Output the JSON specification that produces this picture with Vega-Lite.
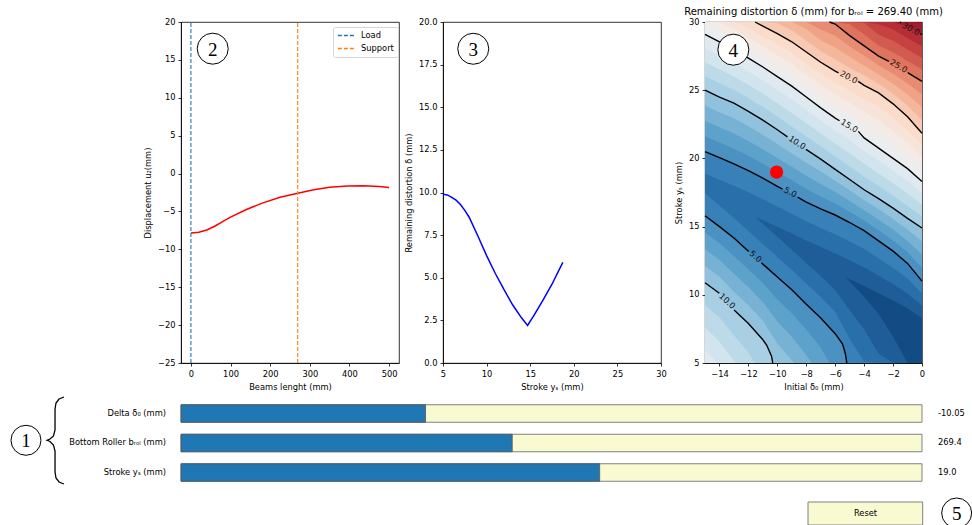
{
"$schema":"https://vega.github.io/schema/vega-lite/v6.json",
"padding":{"left":8,"top":6,"right":0,"bottom":0},
"background":"white",
"columns":3,
"align":"each",
"bounds":"flush",
"spacing":{"row":41.5,"column":44},
"resolve":{"scale":{"color":"independent"},"legend":{"color":"independent"}},
"config":{
 "view":{"stroke":"#000","strokeWidth":0.8},
 "font":"DejaVu Sans",
 "axis":{"labelFont":"DejaVu Sans","titleFont":"DejaVu Sans","labelFontSize":8.3,"titleFontSize":8.3,"titleFontWeight":"normal","labelColor":"#000","titleColor":"#000","tickColor":"#000","domainColor":"#000","tickSize":3,"tickWidth":0.8,"domainWidth":0.8,"grid":false,"labelPadding":3,"titlePadding":5,"labelFlush":false,"labelOverlap":false,"labelBound":false},
 "text":{"font":"DejaVu Sans","fontSize":8.3,"color":"#000"}
},
"concat":[
{
 "width":218,"height":341,
 "layer":[
  {"data":{"values":[{"x":0,"y":-7.85},{"x":20,"y":-7.75},{"x":40,"y":-7.45},{"x":60,"y":-6.95},{"x":80,"y":-6.35},{"x":100,"y":-5.75},{"x":140,"y":-4.75},{"x":180,"y":-3.9},{"x":225,"y":-3.12},{"x":269.4,"y":-2.6},{"x":310,"y":-2.15},{"x":350,"y":-1.82},{"x":395,"y":-1.65},{"x":435,"y":-1.62},{"x":475,"y":-1.7},{"x":500,"y":-1.83}]},
   "mark":{"type":"line","color":"#ff0000","strokeWidth":1.5},
   "encoding":{
     "x":{"field":"x","type":"quantitative","scale":{"domain":[-25,525],"nice":false,"zero":false},"axis":{"values":[0,100,200,300,400,500],"tickCount":6,"labelOverlap":false,"title":"Beams lenght (mm)"}},
     "y":{"field":"y","type":"quantitative","scale":{"domain":[-25,20],"nice":false,"zero":false},"axis":{"values":[-25,-20,-15,-10,-5,0,5,10,15,20],"tickCount":10,"labelOverlap":false,"title":"Displacement u₂(mm)"}}
   }},
  {"data":{"values":[{"s":"Load","x":0,"y0":-25,"y1":20},{"s":"Support","x":269.4,"y0":-25,"y1":20}]},
   "mark":{"type":"rule","strokeDash":[4,2],"strokeWidth":1.1},
   "encoding":{
     "x":{"field":"x","type":"quantitative"},
     "y":{"field":"y0","type":"quantitative"},"y2":{"field":"y1"},
     "color":{"field":"s","type":"nominal","scale":{"domain":["Load","Support"],"range":["#1f77b4","#ff7f0e"]},
       "legend":{"orient":"none","legendX":152,"legendY":5,"title":null,"symbolType":"stroke","symbolDash":[4,2],"symbolStrokeWidth":1.3,"symbolSize":300,"labelFontSize":8.3,"labelFont":"DejaVu Sans","labelColor":"#000","fillColor":"#fff","strokeColor":"#d5d5d5","padding":4,"cornerRadius":2,"clipHeight":9,"rowPadding":3,"labelOffset":5}}
   }},
  {"data":{"values":[{"n":"2","x":55,"y":16.48}]},
   "mark":{"type":"point","shape":"circle","filled":true,"fill":"#fff","stroke":"#000","strokeWidth":1,"size":961,"opacity":1},
   "encoding":{"x":{"field":"x","type":"quantitative"},"y":{"field":"y","type":"quantitative"}}},
  {"data":{"values":[{"n":"2","x":55,"y":16.48}]},
   "mark":{"type":"text","font":"Liberation Serif","fontSize":19,"baseline":"middle","dy":1},
   "encoding":{"x":{"field":"x","type":"quantitative"},"y":{"field":"y","type":"quantitative"},"text":{"field":"n","type":"nominal"}}}
 ]
},
{
 "width":218,"height":341,
 "layer":[
  {"data":{"values":[{"x":5,"y":9.9},{"x":5.5,"y":9.86},{"x":6,"y":9.72},{"x":6.5,"y":9.55},{"x":7,"y":9.3},{"x":7.5,"y":8.95},{"x":8,"y":8.55},{"x":9,"y":7.45},{"x":10,"y":6.3},{"x":11,"y":5.25},{"x":12,"y":4.3},{"x":13,"y":3.4},{"x":14,"y":2.65},{"x":14.7,"y":2.2},{"x":15.5,"y":2.85},{"x":16.5,"y":3.72},{"x":17.5,"y":4.62},{"x":18.74,"y":5.9}]},
   "mark":{"type":"line","color":"#0000ff","strokeWidth":1.5},
   "encoding":{
     "x":{"field":"x","type":"quantitative","scale":{"domain":[5,30],"nice":false,"zero":false},"axis":{"values":[5,10,15,20,25,30],"tickCount":6,"labelOverlap":false,"title":"Stroke yₛ (mm)"}},
     "y":{"field":"y","type":"quantitative","scale":{"domain":[0,20],"nice":false,"zero":false},"axis":{"values":[0,2.5,5,7.5,10,12.5,15,17.5,20],"tickCount":9,"labelOverlap":false,"format":".1f","title":"Remaining distortion δ (mm)"}}
   }},
  {"data":{"values":[{"n":"3","x":8.47,"y":18.43}]},
   "mark":{"type":"point","shape":"circle","filled":true,"fill":"#fff","stroke":"#000","strokeWidth":1,"size":961,"opacity":1},
   "encoding":{"x":{"field":"x","type":"quantitative"},"y":{"field":"y","type":"quantitative"}}},
  {"data":{"values":[{"n":"3","x":8.47,"y":18.43}]},
   "mark":{"type":"text","font":"Liberation Serif","fontSize":19,"baseline":"middle","dy":1},
   "encoding":{"x":{"field":"x","type":"quantitative"},"y":{"field":"y","type":"quantitative"},"text":{"field":"n","type":"nominal"}}}
 ]
},
{
 "width":217,"height":341,
 "layer":[
  {"data":{"values":[
{"k":26,"x":-15,"a":5,"b":30},{"k":26,"x":0,"a":5,"b":30},
{"k":25,"x":-15,"a":5,"b":30},{"k":25,"x":-1,"a":5,"b":30},{"k":25,"x":0,"a":5,"b":29.93},
{"k":24,"x":-15,"a":5,"b":30},{"k":24,"x":-2,"a":5,"b":30},{"k":24,"x":-1,"a":5,"b":29.65},{"k":24,"x":0,"a":5,"b":29.07},
{"k":23,"x":-15,"a":5,"b":30},{"k":23,"x":-4,"a":5,"b":30},{"k":23,"x":-3,"a":5,"b":29.84},{"k":23,"x":-2,"a":5,"b":29.46},{"k":23,"x":-1,"a":5,"b":28.81},{"k":23,"x":0,"a":5,"b":28.22},
{"k":22,"x":-15,"a":5,"b":30},{"k":22,"x":-5,"a":5,"b":30},{"k":22,"x":-4,"a":5,"b":29.93},{"k":22,"x":-3,"a":5,"b":29.06},{"k":22,"x":-2,"a":5,"b":28.63},{"k":22,"x":-1,"a":5,"b":27.98},{"k":22,"x":0,"a":5,"b":27.36},
{"k":21,"x":-15,"a":5,"b":30},{"k":21,"x":-6,"a":5,"b":30},{"k":21,"x":-5,"a":5,"b":29.83},{"k":21,"x":-4,"a":5,"b":29.09},{"k":21,"x":-3,"a":5,"b":28.28},{"k":21,"x":-2,"a":5,"b":27.79},{"k":21,"x":-1,"a":5,"b":27.14},{"k":21,"x":0,"a":5,"b":26.51},
{"k":20,"x":-15,"a":5,"b":30},{"k":20,"x":-6.4,"a":5,"b":30},{"k":20,"x":-6,"a":5,"b":29.85},{"k":20,"x":-5,"a":5,"b":29.0},{"k":20,"x":-4,"a":5,"b":28.25},{"k":20,"x":-3,"a":5,"b":27.5},{"k":20,"x":-2,"a":5,"b":26.95},{"k":20,"x":-1,"a":5,"b":26.3},{"k":20,"x":0,"a":5,"b":25.65},
{"k":19,"x":-15,"a":5,"b":30},{"k":19,"x":-8,"a":5,"b":30},{"k":19,"x":-7,"a":5,"b":29.45},{"k":19,"x":-6,"a":5,"b":28.99},{"k":19,"x":-5,"a":5,"b":28.21},{"k":19,"x":-4,"a":5,"b":27.53},{"k":19,"x":-3,"a":5,"b":26.83},{"k":19,"x":-2,"a":5,"b":26.21},{"k":19,"x":-1,"a":5,"b":25.49},{"k":19,"x":0,"a":5,"b":24.7},
{"k":18,"x":-15,"a":5,"b":30},{"k":18,"x":-9,"a":5,"b":30},{"k":18,"x":-8,"a":5,"b":29.47},{"k":18,"x":-7,"a":5,"b":28.65},{"k":18,"x":-6,"a":5,"b":28.13},{"k":18,"x":-5,"a":5,"b":27.43},{"k":18,"x":-4,"a":5,"b":26.8},{"k":18,"x":-3,"a":5,"b":26.15},{"k":18,"x":-2,"a":5,"b":25.48},{"k":18,"x":-1,"a":5,"b":24.68},{"k":18,"x":0,"a":5,"b":23.75},
{"k":17,"x":-15,"a":5,"b":30},{"k":17,"x":-11,"a":5,"b":30},{"k":17,"x":-10,"a":5,"b":29.91},{"k":17,"x":-9,"a":5,"b":29.37},{"k":17,"x":-8,"a":5,"b":28.63},{"k":17,"x":-7,"a":5,"b":27.85},{"k":17,"x":-6,"a":5,"b":27.26},{"k":17,"x":-5,"a":5,"b":26.64},{"k":17,"x":-4,"a":5,"b":26.08},{"k":17,"x":-3,"a":5,"b":25.48},{"k":17,"x":-2,"a":5,"b":24.74},{"k":17,"x":-1,"a":5,"b":23.86},{"k":17,"x":0,"a":5,"b":22.8},
{"k":16,"x":-15,"a":5,"b":30},{"k":16,"x":-11.54,"a":5,"b":30},{"k":16,"x":-11,"a":5,"b":29.7},{"k":16,"x":-10,"a":5,"b":29.15},{"k":16,"x":-9,"a":5,"b":28.55},{"k":16,"x":-8,"a":5,"b":27.8},{"k":16,"x":-7,"a":5,"b":27.05},{"k":16,"x":-6,"a":5,"b":26.4},{"k":16,"x":-5,"a":5,"b":25.85},{"k":16,"x":-4,"a":5,"b":25.35},{"k":16,"x":-3,"a":5,"b":24.8},{"k":16,"x":-2,"a":5,"b":24.0},{"k":16,"x":-1,"a":5,"b":23.05},{"k":16,"x":0,"a":5,"b":21.85},
{"k":15,"x":-15,"a":5,"b":30},{"k":15,"x":-13,"a":5,"b":30},{"k":15,"x":-12,"a":5,"b":29.56},{"k":15,"x":-11,"a":5,"b":28.95},{"k":15,"x":-10,"a":5,"b":28.36},{"k":15,"x":-9,"a":5,"b":27.74},{"k":15,"x":-8,"a":5,"b":26.98},{"k":15,"x":-7,"a":5,"b":26.21},{"k":15,"x":-6,"a":5,"b":25.54},{"k":15,"x":-5,"a":5,"b":24.96},{"k":15,"x":-4,"a":5,"b":24.39},{"k":15,"x":-3,"a":5,"b":23.79},{"k":15,"x":-2,"a":5,"b":23.0},{"k":15,"x":-1,"a":5,"b":22.1},{"k":15,"x":0,"a":5,"b":20.96},
{"k":14,"x":-15,"a":5,"b":30},{"k":14,"x":-14,"a":5,"b":30},{"k":14,"x":-13,"a":5,"b":29.5},{"k":14,"x":-12,"a":5,"b":28.83},{"k":14,"x":-11,"a":5,"b":28.2},{"k":14,"x":-10,"a":5,"b":27.58},{"k":14,"x":-9,"a":5,"b":26.93},{"k":14,"x":-8,"a":5,"b":26.15},{"k":14,"x":-7,"a":5,"b":25.38},{"k":14,"x":-6,"a":5,"b":24.68},{"k":14,"x":-5,"a":5,"b":24.08},{"k":14,"x":-4,"a":5,"b":23.43},{"k":14,"x":-3,"a":5,"b":22.78},{"k":14,"x":-2,"a":5,"b":22.0},{"k":14,"x":-1,"a":5,"b":21.15},{"k":14,"x":0,"a":5,"b":20.08},
{"k":13,"x":-15,"a":5,"b":29.97},{"k":13,"x":-14,"a":5,"b":29.37},{"k":13,"x":-13,"a":5,"b":28.73},{"k":13,"x":-12,"a":5,"b":28.09},{"k":13,"x":-11,"a":5,"b":27.45},{"k":13,"x":-10,"a":5,"b":26.79},{"k":13,"x":-9,"a":5,"b":26.11},{"k":13,"x":-8,"a":5,"b":25.33},{"k":13,"x":-7,"a":5,"b":24.54},{"k":13,"x":-6,"a":5,"b":23.81},{"k":13,"x":-5,"a":5,"b":23.19},{"k":13,"x":-4,"a":5,"b":22.46},{"k":13,"x":-3,"a":5,"b":21.76},{"k":13,"x":-2,"a":5,"b":21.0},{"k":13,"x":-1,"a":5,"b":20.2},{"k":13,"x":0,"a":5,"b":19.19},
{"k":12,"x":-15,"a":5,"b":29.1},{"k":12,"x":-14,"a":5,"b":28.55},{"k":12,"x":-13,"a":5,"b":27.95},{"k":12,"x":-12,"a":5,"b":27.35},{"k":12,"x":-11,"a":5,"b":26.7},{"k":12,"x":-10,"a":5,"b":26.0},{"k":12,"x":-9,"a":5,"b":25.3},{"k":12,"x":-8,"a":5,"b":24.5},{"k":12,"x":-7,"a":5,"b":23.7},{"k":12,"x":-6,"a":5,"b":22.95},{"k":12,"x":-5,"a":5,"b":22.3},{"k":12,"x":-4,"a":5,"b":21.5},{"k":12,"x":-3,"a":5,"b":20.75},{"k":12,"x":-2,"a":5,"b":20.0},{"k":12,"x":-1,"a":5,"b":19.25},{"k":12,"x":0,"a":5,"b":18.3},
{"k":11,"x":-15,"a":5.98,"b":28.08},{"k":11,"x":-14.17,"a":5,"b":27.63},{"k":11,"x":-14,"a":5,"b":27.54},{"k":11,"x":-13,"a":5,"b":26.98},{"k":11,"x":-12,"a":5,"b":26.38},{"k":11,"x":-11,"a":5,"b":25.73},{"k":11,"x":-10,"a":5,"b":25.03},{"k":11,"x":-9,"a":5,"b":24.31},{"k":11,"x":-8,"a":5,"b":23.54},{"k":11,"x":-7,"a":5,"b":22.76},{"k":11,"x":-6,"a":5,"b":22.01},{"k":11,"x":-5,"a":5,"b":21.34},{"k":11,"x":-4,"a":5,"b":20.55},{"k":11,"x":-3,"a":5,"b":19.83},{"k":11,"x":-2,"a":5,"b":19.09},{"k":11,"x":-1,"a":5,"b":18.34},{"k":11,"x":0,"a":5,"b":17.45},
{"k":10,"x":-15,"a":7.61,"b":27.05},{"k":10,"x":-14,"a":6.56,"b":26.53},{"k":10,"x":-13,"a":5.15,"b":26.0},{"k":10,"x":-12.89,"a":5,"b":25.93},{"k":10,"x":-12,"a":5,"b":25.4},{"k":10,"x":-11,"a":5,"b":24.75},{"k":10,"x":-10,"a":5,"b":24.05},{"k":10,"x":-9,"a":5,"b":23.33},{"k":10,"x":-8,"a":5,"b":22.58},{"k":10,"x":-7,"a":5,"b":21.83},{"k":10,"x":-6,"a":5,"b":21.08},{"k":10,"x":-5,"a":5,"b":20.38},{"k":10,"x":-4,"a":5,"b":19.6},{"k":10,"x":-3,"a":5,"b":18.9},{"k":10,"x":-2,"a":5,"b":18.18},{"k":10,"x":-1,"a":5,"b":17.43},{"k":10,"x":0,"a":5,"b":16.6},
{"k":9,"x":-15,"a":9.25,"b":26.03},{"k":9,"x":-14,"a":8.33,"b":25.51},{"k":9,"x":-13,"a":7.03,"b":25.03},{"k":9,"x":-12,"a":5.77,"b":24.43},{"k":9,"x":-11.55,"a":5,"b":24.1},{"k":9,"x":-11,"a":5,"b":23.78},{"k":9,"x":-10,"a":5,"b":23.08},{"k":9,"x":-9,"a":5,"b":22.34},{"k":9,"x":-8,"a":5,"b":21.61},{"k":9,"x":-7,"a":5,"b":20.89},{"k":9,"x":-6,"a":5,"b":20.14},{"k":9,"x":-5,"a":5,"b":19.41},{"k":9,"x":-4,"a":5,"b":18.65},{"k":9,"x":-3,"a":5,"b":17.98},{"k":9,"x":-2,"a":5,"b":17.26},{"k":9,"x":-1,"a":5,"b":16.51},{"k":9,"x":0,"a":5,"b":15.75},
{"k":8,"x":-15,"a":10.88,"b":25.0},{"k":8,"x":-14,"a":10.1,"b":24.5},{"k":8,"x":-13,"a":8.9,"b":24.05},{"k":8,"x":-12,"a":7.9,"b":23.45},{"k":8,"x":-11,"a":6.7,"b":22.8},{"k":8,"x":-10.74,"a":6.32,"b":22.62},{"k":8,"x":-10.4,"a":5.5,"b":22.38},{"k":8,"x":-10.32,"a":5,"b":22.32},{"k":8,"x":-10,"a":5,"b":22.1},{"k":8,"x":-9,"a":5,"b":21.35},{"k":8,"x":-8,"a":5,"b":20.65},{"k":8,"x":-7,"a":5,"b":19.95},{"k":8,"x":-6,"a":5,"b":19.2},{"k":8,"x":-5,"a":5,"b":18.45},{"k":8,"x":-4,"a":5,"b":17.7},{"k":8,"x":-3,"a":5,"b":17.05},{"k":8,"x":-2,"a":5,"b":16.35},{"k":8,"x":-1,"a":5,"b":15.6},{"k":8,"x":0,"a":5,"b":14.9},
{"k":7,"x":-15,"a":12.11,"b":23.87},{"k":7,"x":-14,"a":11.33,"b":23.39},{"k":7,"x":-13,"a":10.22,"b":22.94},{"k":7,"x":-12,"a":9.23,"b":22.36},{"k":7,"x":-11,"a":8.09,"b":21.74},{"k":7,"x":-10,"a":6.43,"b":21.06},{"k":7,"x":-9,"a":5.21,"b":20.36},{"k":7,"x":-8.85,"a":5,"b":20.26},{"k":7,"x":-8,"a":5,"b":19.69},{"k":7,"x":-7,"a":5,"b":19.04},{"k":7,"x":-6,"a":5,"b":18.36},{"k":7,"x":-5,"a":5,"b":17.66},{"k":7,"x":-4,"a":5,"b":16.95},{"k":7,"x":-3,"a":5,"b":16.28},{"k":7,"x":-2,"a":5,"b":15.56},{"k":7,"x":-1,"a":5,"b":14.78},{"k":7,"x":0,"a":5,"b":13.93},
{"k":6,"x":-15,"a":13.34,"b":22.75},{"k":6,"x":-14,"a":12.55,"b":22.28},{"k":6,"x":-13,"a":11.54,"b":21.83},{"k":6,"x":-12,"a":10.55,"b":21.28},{"k":6,"x":-11,"a":9.48,"b":20.68},{"k":6,"x":-10,"a":8.05,"b":20.03},{"k":6,"x":-9,"a":6.93,"b":19.38},{"k":6,"x":-8,"a":5.59,"b":18.73},{"k":6,"x":-7.6,"a":5,"b":18.49},{"k":6,"x":-7,"a":5,"b":18.13},{"k":6,"x":-6,"a":5,"b":17.53},{"k":6,"x":-5,"a":5,"b":16.88},{"k":6,"x":-4,"a":5,"b":16.2},{"k":6,"x":-3,"a":5,"b":15.5},{"k":6,"x":-2,"a":5,"b":14.78},{"k":6,"x":-1,"a":5,"b":13.95},{"k":6,"x":0,"a":5,"b":12.95},
{"k":5,"x":-15,"a":14.57,"b":21.62},{"k":5,"x":-14,"a":13.78,"b":21.16},{"k":5,"x":-13,"a":12.85,"b":20.71},{"k":5,"x":-12,"a":11.88,"b":20.19},{"k":5,"x":-11,"a":10.86,"b":19.61},{"k":5,"x":-10,"a":9.68,"b":18.99},{"k":5,"x":-9,"a":8.65,"b":18.39},{"k":5,"x":-8,"a":7.45,"b":17.76},{"k":5,"x":-7,"a":6.13,"b":17.21},{"k":5,"x":-6.4,"a":5,"b":16.9},{"k":5,"x":-6,"a":5,"b":16.69},{"k":5,"x":-5,"a":5,"b":16.09},{"k":5,"x":-4,"a":5,"b":15.45},{"k":5,"x":-3,"a":5,"b":14.73},{"k":5,"x":-2,"a":5,"b":13.99},{"k":5,"x":-1,"a":5,"b":13.13},{"k":5,"x":0,"a":5,"b":11.98},
{"k":4,"x":-15,"a":15.8,"b":20.49},{"k":4,"x":-14,"a":15.0,"b":20.05},{"k":4,"x":-13,"a":14.17,"b":19.6},{"k":4,"x":-12,"a":13.2,"b":19.1},{"k":4,"x":-11,"a":12.25,"b":18.55},{"k":4,"x":-10,"a":11.3,"b":17.95},{"k":4,"x":-9,"a":10.37,"b":17.4},{"k":4,"x":-8,"a":9.3,"b":16.8},{"k":4,"x":-7,"a":8.3,"b":16.3},{"k":4,"x":-6,"a":7.15,"b":15.85},{"k":4,"x":-5.5,"a":6.4,"b":15.58},{"k":4,"x":-5.3,"a":5.7,"b":15.47},{"k":4,"x":-5.2,"a":5,"b":15.41},{"k":4,"x":-5,"a":5,"b":15.3},{"k":4,"x":-4,"a":5,"b":14.7},{"k":4,"x":-3,"a":5,"b":13.95},{"k":4,"x":-2,"a":5,"b":13.2},{"k":4,"x":-1,"a":5,"b":12.3},{"k":4,"x":0,"a":5,"b":11.0},
{"k":3,"x":-15,"a":17.44,"b":18.89},{"k":3,"x":-14,"a":16.53,"b":18.44},{"k":3,"x":-13,"a":15.63,"b":17.99},{"k":3,"x":-12,"a":14.67,"b":17.51},{"k":3,"x":-11,"a":13.73,"b":17.01},{"k":3,"x":-10,"a":12.78,"b":16.47},{"k":3,"x":-9,"a":11.84,"b":15.95},{"k":3,"x":-8,"a":10.82,"b":15.4},{"k":3,"x":-7,"a":9.84,"b":14.9},{"k":3,"x":-6,"a":8.75,"b":14.44},{"k":3,"x":-5,"a":6.77,"b":13.91},{"k":3,"x":-4,"a":5.1,"b":13.35},{"k":3,"x":-3,"a":5,"b":12.67},{"k":3,"x":-2,"a":5,"b":11.99},{"k":3,"x":-1,"a":5,"b":11.2},{"k":3,"x":0,"a":5,"b":10.1},
{"k":2,"x":-11.55,"a":15.73,"b":15.73},{"k":2,"x":-11,"a":15.2,"b":15.47},{"k":2,"x":-10,"a":14.25,"b":14.99},{"k":2,"x":-9,"a":13.31,"b":14.5},{"k":2,"x":-8,"a":12.34,"b":13.99},{"k":2,"x":-7,"a":11.37,"b":13.51},{"k":2,"x":-6,"a":10.36,"b":13.03},{"k":2,"x":-5,"a":8.87,"b":12.53},{"k":2,"x":-4,"a":7.48,"b":12.0},{"k":2,"x":-3,"a":5.69,"b":11.4},{"k":2,"x":-2,"a":5,"b":10.78},{"k":2,"x":-1,"a":5,"b":10.09},{"k":2,"x":0,"a":5,"b":9.19},
{"k":1,"x":-5.3,"a":11.29,"b":11.29},{"k":1,"x":-5,"a":10.97,"b":11.14},{"k":1,"x":-4,"a":9.86,"b":10.64},{"k":1,"x":-3,"a":8.59,"b":10.12},{"k":1,"x":-2,"a":6.95,"b":9.58},{"k":1,"x":-1,"a":5,"b":8.99},{"k":1,"x":0,"a":5,"b":8.29}
  ]},
   "mark":{"type":"area","interpolate":"linear","opacity":1},
   "encoding":{
     "x":{"field":"x","type":"quantitative","scale":{"domain":[-15,0],"nice":false,"zero":false},"axis":{"values":[-14,-12,-10,-8,-6,-4,-2,0],"tickCount":8,"labelOverlap":false,"title":"Initial δ₀ (mm)"}},
     "y":{"field":"a","type":"quantitative","scale":{"domain":[5,30],"nice":false,"zero":false},"axis":{"values":[5,10,15,20,25,30],"tickCount":6,"labelOverlap":false,"title":"Stroke yₛ (mm)"}},
     "y2":{"field":"b"},
     "color":{"field":"k","type":"quantitative","scale":{"scheme":"redblue","reverse":true,"domain":[1,26]},"legend":null},
     "detail":{"field":"k","type":"nominal"}
   }},
  {"data":{"values":[
{"c":"U5a","x":-15,"y":20.49},{"c":"U5a","x":-14,"y":20.05},{"c":"U5a","x":-13,"y":19.6},{"c":"U5a","x":-12,"y":19.1},{"c":"U5a","x":-11,"y":18.55},{"c":"U5a","x":-10,"y":17.95},{"c":"U5a","x":-9.64,"y":17.75},
{"c":"U5b","x":-8.6,"y":17.16},{"c":"U5b","x":-8,"y":16.8},{"c":"U5b","x":-7,"y":16.3},{"c":"U5b","x":-6,"y":15.85},{"c":"U5b","x":-5,"y":15.3},{"c":"U5b","x":-4,"y":14.7},{"c":"U5b","x":-3,"y":13.95},{"c":"U5b","x":-2,"y":13.2},{"c":"U5b","x":-1,"y":12.3},{"c":"U5b","x":0,"y":11.0},
{"c":"L5a","x":-15,"y":15.8},{"c":"L5a","x":-14,"y":15.0},{"c":"L5a","x":-13,"y":14.17},{"c":"L5a","x":-11.98,"y":13.18},
{"c":"L5b","x":-11.1,"y":12.35},{"c":"L5b","x":-11,"y":12.25},{"c":"L5b","x":-10,"y":11.3},{"c":"L5b","x":-9,"y":10.37},{"c":"L5b","x":-8,"y":9.3},{"c":"L5b","x":-7,"y":8.3},{"c":"L5b","x":-6,"y":7.15},{"c":"L5b","x":-5.5,"y":6.4},{"c":"L5b","x":-5.3,"y":5.7},{"c":"L5b","x":-5.2,"y":5},
{"c":"U10a","x":-15,"y":25.0},{"c":"U10a","x":-14,"y":24.5},{"c":"U10a","x":-13,"y":24.05},{"c":"U10a","x":-12,"y":23.45},{"c":"U10a","x":-11,"y":22.8},{"c":"U10a","x":-10,"y":22.1},{"c":"U10a","x":-9.3,"y":21.58},
{"c":"U10b","x":-8.02,"y":20.66},{"c":"U10b","x":-7,"y":19.95},{"c":"U10b","x":-6,"y":19.2},{"c":"U10b","x":-5,"y":18.45},{"c":"U10b","x":-4,"y":17.7},{"c":"U10b","x":-3,"y":17.05},{"c":"U10b","x":-2,"y":16.35},{"c":"U10b","x":-1,"y":15.6},{"c":"U10b","x":0,"y":14.9},
{"c":"L10a","x":-15,"y":10.88},{"c":"L10a","x":-14.01,"y":10.11},
{"c":"L10b","x":-12.99,"y":8.89},{"c":"L10b","x":-12,"y":7.9},{"c":"L10b","x":-11,"y":6.7},{"c":"L10b","x":-10.74,"y":6.32},{"c":"L10b","x":-10.4,"y":5.5},{"c":"L10b","x":-10.32,"y":5},
{"c":"U15a","x":-15,"y":29.1},{"c":"U15a","x":-14,"y":28.55},{"c":"U15a","x":-13,"y":27.95},{"c":"U15a","x":-12,"y":27.35},{"c":"U15a","x":-11,"y":26.7},{"c":"U15a","x":-10,"y":26.0},{"c":"U15a","x":-9,"y":25.3},{"c":"U15a","x":-8,"y":24.5},{"c":"U15a","x":-7,"y":23.7},{"c":"U15a","x":-6,"y":22.95},{"c":"U15a","x":-5.7,"y":22.76},
{"c":"U15b","x":-4.4,"y":21.98},{"c":"U15b","x":-4,"y":21.5},{"c":"U15b","x":-3,"y":20.75},{"c":"U15b","x":-2,"y":20.0},{"c":"U15b","x":-1,"y":19.25},{"c":"U15b","x":0,"y":18.3},
{"c":"U20a","x":-11.54,"y":30},{"c":"U20a","x":-11,"y":29.7},{"c":"U20a","x":-10,"y":29.15},{"c":"U20a","x":-9,"y":28.55},{"c":"U20a","x":-8,"y":27.8},{"c":"U20a","x":-7,"y":27.05},{"c":"U20a","x":-6,"y":26.4},{"c":"U20a","x":-5.77,"y":26.27},
{"c":"U20b","x":-4.41,"y":25.65},{"c":"U20b","x":-4,"y":25.35},{"c":"U20b","x":-3,"y":24.8},{"c":"U20b","x":-2,"y":24.0},{"c":"U20b","x":-1,"y":23.05},{"c":"U20b","x":0,"y":21.85},
{"c":"U25a","x":-6.4,"y":30},{"c":"U25a","x":-6,"y":29.85},{"c":"U25a","x":-5,"y":29.0},{"c":"U25a","x":-4,"y":28.25},{"c":"U25a","x":-3,"y":27.5},{"c":"U25a","x":-2.29,"y":27.11},
{"c":"U25b","x":-0.99,"y":26.29},{"c":"U25b","x":0,"y":25.65},
{"c":"U30a","x":-1.54,"y":30},{"c":"U30a","x":-1.43,"y":29.93},
{"c":"U30b","x":-0.13,"y":29.15},{"c":"U30b","x":0,"y":29.07}
  ]},
   "mark":{"type":"line","color":"#000","strokeWidth":1.4},
   "encoding":{"x":{"field":"x","type":"quantitative"},"y":{"field":"y","type":"quantitative"},"detail":{"field":"c","type":"nominal"}}},
  {"data":{"values":[{"t":"5.0","x":-9.12,"y":17.47}]},"mark":{"type":"text","angle":27,"color":"#111"},
   "encoding":{"x":{"field":"x","type":"quantitative"},"y":{"field":"y","type":"quantitative"},"text":{"field":"t","type":"nominal"}}},
  {"data":{"values":[{"t":"5.0","x":-11.54,"y":12.76}]},"mark":{"type":"text","angle":41,"color":"#111"},
   "encoding":{"x":{"field":"x","type":"quantitative"},"y":{"field":"y","type":"quantitative"},"text":{"field":"t","type":"nominal"}}},
  {"data":{"values":[{"t":"10.0","x":-8.66,"y":21.11}]},"mark":{"type":"text","angle":33,"color":"#111"},
   "encoding":{"x":{"field":"x","type":"quantitative"},"y":{"field":"y","type":"quantitative"},"text":{"field":"t","type":"nominal"}}},
  {"data":{"values":[{"t":"10.0","x":-13.5,"y":9.5}]},"mark":{"type":"text","angle":43,"color":"#111"},
   "encoding":{"x":{"field":"x","type":"quantitative"},"y":{"field":"y","type":"quantitative"},"text":{"field":"t","type":"nominal"}}},
  {"data":{"values":[{"t":"15.0","x":-5.05,"y":22.33},{"t":"25.0","x":-1.64,"y":26.72}]},"mark":{"type":"text","angle":31,"color":"#111"},
   "encoding":{"x":{"field":"x","type":"quantitative"},"y":{"field":"y","type":"quantitative"},"text":{"field":"t","type":"nominal"}}},
  {"data":{"values":[{"t":"20.0","x":-5.09,"y":25.9},{"t":"30.0","x":-0.78,"y":29.45}]},"mark":{"type":"text","angle":28,"color":"#111"},
   "encoding":{"x":{"field":"x","type":"quantitative"},"y":{"field":"y","type":"quantitative"},"text":{"field":"t","type":"nominal"}}},
  {"data":{"values":[{"d0":-10.05,"ys":19.0}]},
   "mark":{"type":"point","shape":"circle","filled":true,"color":"#ff0000","size":175,"opacity":1},
   "encoding":{"x":{"field":"d0","type":"quantitative"},"y":{"field":"ys","type":"quantitative"}}},
  {"data":{"values":[{"n":"4","x":-13.04,"y":27.97}]},
   "mark":{"type":"point","shape":"circle","filled":true,"fill":"#fff","stroke":"#000","strokeWidth":1,"size":961,"opacity":1},
   "encoding":{"x":{"field":"x","type":"quantitative"},"y":{"field":"y","type":"quantitative"}}},
  {"data":{"values":[{"n":"4","x":-13.04,"y":27.97}]},
   "mark":{"type":"text","font":"Liberation Serif","fontSize":19,"baseline":"middle","dy":1},
   "encoding":{"x":{"field":"x","type":"quantitative"},"y":{"field":"y","type":"quantitative"},"text":{"field":"n","type":"nominal"}}},
  {"data":{"values":[{"t":"Remaining distortion δ (mm) for bᵣₒₗ = 269.40 (mm)","x":-7.5,"y":30}]},
   "mark":{"type":"text","fontSize":10,"baseline":"alphabetic","dy":-7},
   "encoding":{"x":{"field":"x","type":"quantitative"},"y":{"field":"y","type":"quantitative"},"text":{"field":"t","type":"nominal"}}}
 ]
},
{
 "width":218,"height":120,
 "view":{"stroke":null},
 "layer":[
  {"data":{"values":[{"row":0,"lo":0,"hi":1},{"row":1,"lo":0,"hi":1},{"row":2,"lo":0,"hi":1}]},
   "mark":{"type":"rect","fill":"#fafad2","stroke":"#808080","strokeWidth":1,"yOffset":-8.75,"y2Offset":8.75},
   "encoding":{"x":{"field":"lo","type":"quantitative","scale":{"domain":[0,0.2942],"nice":false,"zero":false},"axis":null},"x2":{"field":"hi"},
     "y":{"field":"row","type":"quantitative","scale":{"domain":[-0.3051,3.7627],"reverse":true,"nice":false,"zero":false},"axis":null},"y2":{"field":"row"}}},
  {"data":{"values":[{"row":0,"lo":0,"f":0.33},{"row":1,"lo":0,"f":0.447},{"row":2,"lo":0,"f":0.565}]},
   "mark":{"type":"rect","fill":"#1f77b4","stroke":"#555555","strokeWidth":0.8,"yOffset":-8.75,"y2Offset":8.75},
   "encoding":{"x":{"field":"lo","type":"quantitative","axis":null},"x2":{"field":"f"},"y":{"field":"row","type":"quantitative","axis":null},"y2":{"field":"row"}}},
  {"data":{"values":[{"row":0,"lo":0,"name":"Delta δ₀ (mm)"},{"row":1,"lo":0,"name":"Bottom Roller bᵣₒₗ (mm)"},{"row":2,"lo":0,"name":"Stroke yₛ (mm)"}]},
   "mark":{"type":"text","align":"right","dx":-15,"fontSize":8.3},
   "encoding":{"x":{"field":"lo","type":"quantitative","axis":null},"y":{"field":"row","type":"quantitative","axis":null},"text":{"field":"name","type":"nominal"}}},
  {"data":{"values":[{"row":0,"hi":1,"val":"-10.05"},{"row":1,"hi":1,"val":"269.4"},{"row":2,"hi":1,"val":"19.0"}]},
   "mark":{"type":"text","align":"left","dx":16,"fontSize":8.3},
   "encoding":{"x":{"field":"hi","type":"quantitative","axis":null},"y":{"field":"row","type":"quantitative","axis":null},"text":{"field":"val","type":"nominal"}}},
  {"data":{"values":[{"t":"Reset","x0":0.8462,"x1":1.0009,"xm":0.9238,"y":3.39}]},
   "mark":{"type":"rect","fill":"#fafad2","stroke":"#808080","strokeWidth":1,"yOffset":-11.5,"y2Offset":11.5},
   "encoding":{"x":{"field":"x0","type":"quantitative","axis":null},"x2":{"field":"x1"},"y":{"field":"y","type":"quantitative","axis":null},"y2":{"field":"y"}}},
  {"data":{"values":[{"t":"Reset","x0":0.8462,"x1":1.0009,"xm":0.9238,"y":3.39}]},
   "mark":{"type":"text","fontSize":8.3},
   "encoding":{"x":{"field":"xm","type":"quantitative","axis":null},"y":{"field":"y","type":"quantitative","axis":null},"text":{"field":"t","type":"nominal"}}},
  {"data":{"values":[{"n":"1","x":-0.2092,"y":0.908},{"n":"5","x":1.0468,"y":3.373}]},
   "mark":{"type":"point","shape":"circle","filled":true,"fill":"#fff","stroke":"#000","strokeWidth":1,"size":900,"opacity":1},
   "encoding":{"x":{"field":"x","type":"quantitative","axis":null},"y":{"field":"y","type":"quantitative","axis":null}}},
  {"data":{"values":[{"n":"1","x":-0.2092,"y":0.908},{"n":"5","x":1.0468,"y":3.373}]},
   "mark":{"type":"text","font":"Liberation Serif","fontSize":19,"baseline":"middle","dy":1},
   "encoding":{"x":{"field":"x","type":"quantitative","axis":null},"y":{"field":"y","type":"quantitative","axis":null},"text":{"field":"n","type":"nominal"}}},
  {"data":{"values":[
{"i":0,"x":-0.1579,"y":-0.559},{"i":1,"x":-0.1646,"y":-0.492},{"i":2,"x":-0.1687,"y":-0.356},{"i":3,"x":-0.17,"y":-0.153},{"i":4,"x":-0.17,"y":0.559},{"i":5,"x":-0.1721,"y":0.763},{"i":6,"x":-0.1768,"y":0.864},{"i":7,"x":-0.1808,"y":0.908},{"i":8,"x":-0.1768,"y":0.949},{"i":9,"x":-0.1721,"y":1.068},{"i":10,"x":-0.17,"y":1.271},{"i":11,"x":-0.17,"y":1.983},{"i":12,"x":-0.1687,"y":2.186},{"i":13,"x":-0.1646,"y":2.322},{"i":14,"x":-0.1579,"y":2.39}
  ]},
   "mark":{"type":"line","color":"#000","strokeWidth":1.3},
   "encoding":{"x":{"field":"x","type":"quantitative","axis":null},"y":{"field":"y","type":"quantitative","axis":null},"order":{"field":"i","type":"quantitative"}}}
 ]
}
]
}
